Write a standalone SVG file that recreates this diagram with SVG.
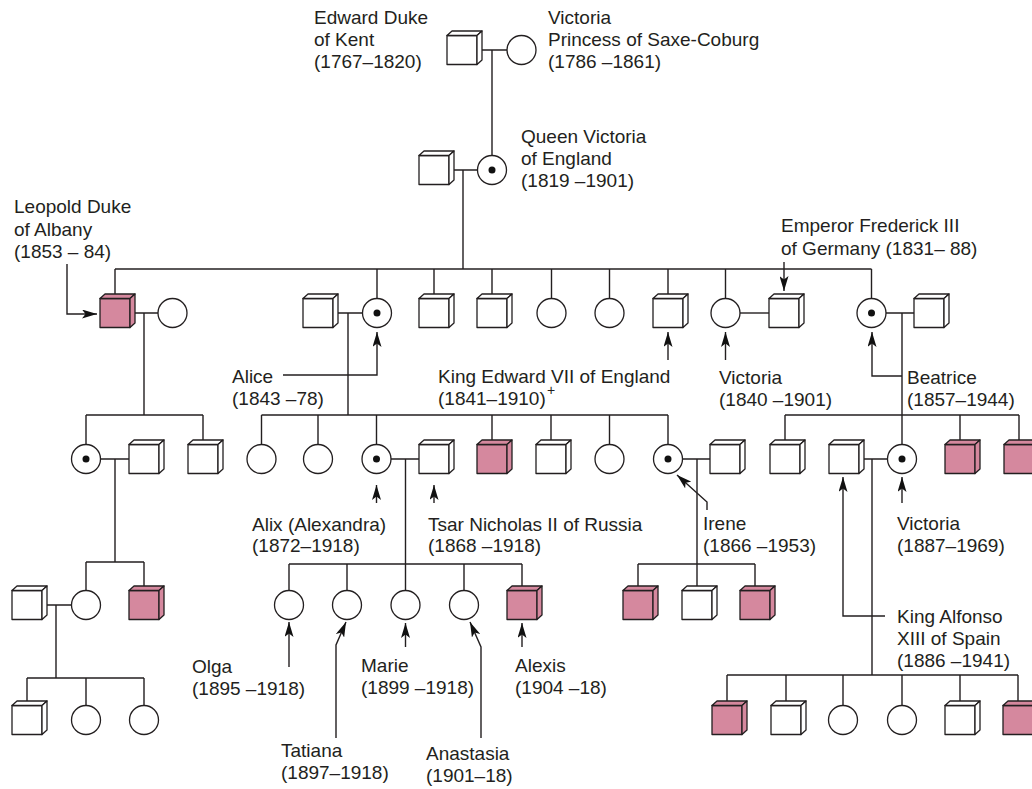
<svg xmlns="http://www.w3.org/2000/svg" xmlns:xlink="http://www.w3.org/1999/xlink" width="1032" height="789" viewBox="0 0 1032 789">
  <style>
    text { font-family: "Liberation Sans", Arial, sans-serif; font-size: 19px; fill: #231f20; }
    .sup { font-size: 14px; }
    .ln { fill: none; stroke: #231f20; stroke-width: 1.4; }
    .ar { fill: none; stroke: #231f20; stroke-width: 1.4; marker-end: url(#head); }
    .f { fill: #ffffff; }
    .p { fill: #d5889e; }
    .c { fill: #ffffff; stroke: #231f20; stroke-width: 1.3; }
    .dot { fill: #111111; }
  </style>
  <defs>
    <!-- square symbol: origin at top-left of the front face, shallow 3-D top and side -->
    <g id="box" stroke="#231f20" stroke-width="1.3" stroke-linejoin="round">
      <path d="M0,0 H30 V29 H0 Z"/>
      <path d="M0,0 L5,-4.5 H35 L30,0 Z"/>
      <path d="M30,0 L35,-4.5 V24.5 L30,29 Z"/>
    </g>
    <marker id="head" viewBox="0 0 15 9" refX="15" refY="4.5" markerWidth="15" markerHeight="9" markerUnits="userSpaceOnUse" orient="auto">
      <path d="M0,0 L15,4.5 L0,9 L3.5,4.5 Z" fill="#111111"/>
    </marker>
  </defs>

  <!-- connectors: marriages, descent lines, sibling bars and label pointers -->
  <g id="connectors">
    <!-- generation I -->
    <path class="ln" d="M481,50 H507 M492,50 V155.5"/>
    <!-- generation II -->
    <path class="ln" d="M453,170 H477.5 M463,170 V269"/>
    <path class="ln" d="M115,269 H871.5"/>
    <path class="ln" d="M115,269 V294 M377,269 V298.5 M434,269 V294 M492,269 V294 M551.5,269 V298.5 M609.5,269 V298.5 M668,269 V294 M725.5,269 V298.5 M871.5,269 V298.5"/>
    <!-- generation III marriages and descents -->
    <path class="ln" d="M134,313 H158 M144,313 V415"/>
    <path class="ln" d="M338,313 H362.5 M348,313 V415"/>
    <path class="ln" d="M740,313 H769"/>
    <path class="ln" d="M886,313 H914 M902,313 V444.5"/>
    <!-- sibling bars, generation IV -->
    <path class="ln" d="M86,415 H203 M86,415 V444.5 M203,415 V440"/>
    <path class="ln" d="M261.5,415 H668 M261.5,415 V444.5 M318,415 V444.5 M376.5,415 V444.5 M492,415 V440 M551,415 V440 M609.5,415 V444.5 M668,415 V444.5"/>
    <path class="ln" d="M785,415 H1019 M785,415 V440 M960,415 V440 M1019,415 V440"/>
    <!-- generation IV marriages and descents -->
    <path class="ln" d="M100.5,459 H129 M115,459 V562"/>
    <path class="ln" d="M391,459 H419 M405.5,459 V590.5"/>
    <path class="ln" d="M682.5,459 H710 M697,459 V586"/>
    <path class="ln" d="M864,459 H887.5 M872,459 V675"/>
    <!-- sibling bars, generation V -->
    <path class="ln" d="M86,562 H144 M86,562 V590.5 M144,562 V586"/>
    <path class="ln" d="M289,564 H522 M289,564 V590.5 M347,564 V590.5 M464,564 V590.5 M522,564 V586"/>
    <path class="ln" d="M638,564 H755 M638,564 V586 M755,564 V586"/>
    <path class="ln" d="M47,605 H71.5 M56,605 V678"/>
    <!-- sibling bars, generation VI -->
    <path class="ln" d="M27,678 H144 M27,678 V701 M86,678 V705.5 M144,678 V705.5"/>
    <path class="ln" d="M727,675 H1018 M727,675 V701 M786,675 V701 M843,675 V705.5 M902,675 V705.5 M960,675 V701 M1018,675 V701"/>

    <!-- label pointers -->
    <path class="ar" d="M67,264 V314 H97"/>
    <path class="ar" d="M784,262 V291"/>
    <path class="ar" d="M668,360 V332"/>
    <path class="ar" d="M725.5,360 V332"/>
    <path class="ar" d="M902,376 H872 V332"/>
    <path class="ar" d="M283,375 H377 V332"/>
    <path class="ar" d="M376.5,503 V485"/>
    <path class="ar" d="M434,503 V485"/>
    <path class="ar" d="M707,510 V502 L677,475"/>
    <path class="ar" d="M289,667 V622"/>
    <path class="ar" d="M336,738 V645 L346,622"/>
    <path class="ar" d="M405.5,647 V623"/>
    <path class="ar" d="M481,738 V647 L470,622"/>
    <path class="ar" d="M522,647 V623"/>
    <path class="ar" d="M902,503 V477"/>
    <path class="ar" d="M885,616 H843 V477"/>
  </g>

  <!-- generation I -->
  <g id="edward-kent"><use href="#box" class="f" x="447" y="35.5"/></g>
  <g id="victoria-saxe-coburg"><circle class="c" cx="521.5" cy="50" r="14.5"/></g>

  <!-- generation II -->
  <g id="albert"><use href="#box" class="f" x="419" y="155.5"/></g>
  <g id="queen-victoria"><circle class="c" cx="492" cy="170" r="14.5"/><circle class="dot" cx="492" cy="170" r="3.5"/></g>

  <!-- generation III -->
  <g id="leopold"><use href="#box" class="p" x="100" y="298.5"/></g>
  <g id="helena-waldeck"><circle class="c" cx="172.5" cy="313" r="14.5"/></g>
  <g id="louis-hesse"><use href="#box" class="f" x="303" y="298.5"/></g>
  <g id="alice"><circle class="c" cx="377" cy="313" r="14.5"/><circle class="dot" cx="377" cy="313" r="3.5"/></g>
  <g id="son-1"><use href="#box" class="f" x="419" y="298.5"/></g>
  <g id="son-2"><use href="#box" class="f" x="477" y="298.5"/></g>
  <g id="daughter-1"><circle class="c" cx="551.5" cy="313" r="14.5"/></g>
  <g id="daughter-2"><circle class="c" cx="609.5" cy="313" r="14.5"/></g>
  <g id="edward-vii"><use href="#box" class="f" x="653" y="298.5"/></g>
  <g id="victoria-princess-royal"><circle class="c" cx="725.5" cy="313" r="14.5"/></g>
  <g id="frederick-iii"><use href="#box" class="f" x="769" y="298.5"/></g>
  <g id="beatrice"><circle class="c" cx="871.5" cy="313" r="14.5"/><circle class="dot" cx="871.5" cy="313" r="3.5"/></g>
  <g id="henry-battenberg"><use href="#box" class="f" x="914" y="298.5"/></g>

  <!-- generation IV -->
  <g id="alice-albany"><circle class="c" cx="86" cy="459" r="14.5"/><circle class="dot" cx="86" cy="459" r="3.5"/></g>
  <g id="alexander-teck"><use href="#box" class="f" x="129" y="444.5"/></g>
  <g id="charles-albany"><use href="#box" class="f" x="188" y="444.5"/></g>
  <g id="hesse-d1"><circle class="c" cx="261.5" cy="459" r="14.5"/></g>
  <g id="hesse-d2"><circle class="c" cx="318" cy="459" r="14.5"/></g>
  <g id="alix"><circle class="c" cx="376.5" cy="459" r="14.5"/><circle class="dot" cx="376.5" cy="459" r="3.5"/></g>
  <g id="nicholas-ii"><use href="#box" class="f" x="419" y="444.5"/></g>
  <g id="hesse-s1"><use href="#box" class="p" x="477" y="444.5"/></g>
  <g id="hesse-s2"><use href="#box" class="f" x="536" y="444.5"/></g>
  <g id="hesse-d3"><circle class="c" cx="609.5" cy="459" r="14.5"/></g>
  <g id="irene"><circle class="c" cx="668" cy="459" r="14.5"/><circle class="dot" cx="668" cy="459" r="3.5"/></g>
  <g id="henry-prussia"><use href="#box" class="f" x="710" y="444.5"/></g>
  <g id="batt-s1"><use href="#box" class="f" x="770" y="444.5"/></g>
  <g id="alfonso-xiii"><use href="#box" class="f" x="829" y="444.5"/></g>
  <g id="victoria-eugenie"><circle class="c" cx="902" cy="459" r="14.5"/><circle class="dot" cx="902" cy="459" r="3.5"/></g>
  <g id="batt-s2"><use href="#box" class="p" x="945" y="444.5"/></g>
  <g id="batt-s3"><use href="#box" class="p" x="1004" y="444.5"/></g>

  <!-- generation V -->
  <g id="teck-husband"><use href="#box" class="f" x="12" y="590.5"/></g>
  <g id="teck-d1"><circle class="c" cx="86" cy="605" r="14.5"/></g>
  <g id="teck-s1"><use href="#box" class="p" x="129" y="590.5"/></g>
  <g id="olga"><circle class="c" cx="289" cy="605" r="14.5"/></g>
  <g id="tatiana"><circle class="c" cx="347" cy="605" r="14.5"/></g>
  <g id="marie"><circle class="c" cx="405.5" cy="605" r="14.5"/></g>
  <g id="anastasia"><circle class="c" cx="464" cy="605" r="14.5"/></g>
  <g id="alexis"><use href="#box" class="p" x="507" y="590.5"/></g>
  <g id="prussia-s1"><use href="#box" class="p" x="623" y="590.5"/></g>
  <g id="prussia-s2"><use href="#box" class="f" x="682" y="590.5"/></g>
  <g id="prussia-s3"><use href="#box" class="p" x="740" y="590.5"/></g>

  <!-- generation VI -->
  <g id="vi-s1"><use href="#box" class="f" x="12" y="705.5"/></g>
  <g id="vi-d1"><circle class="c" cx="86" cy="720" r="14.5"/></g>
  <g id="vi-d2"><circle class="c" cx="144" cy="720" r="14.5"/></g>
  <g id="spain-s1"><use href="#box" class="p" x="712" y="705.5"/></g>
  <g id="spain-s2"><use href="#box" class="f" x="771" y="705.5"/></g>
  <g id="spain-d1"><circle class="c" cx="843" cy="720" r="14.5"/></g>
  <g id="spain-d2"><circle class="c" cx="902" cy="720" r="14.5"/></g>
  <g id="spain-s3"><use href="#box" class="f" x="945" y="705.5"/></g>
  <g id="spain-s4"><use href="#box" class="p" x="1003" y="705.5"/></g>

  <!-- labels -->
  <g id="labels">
    <text x="314" y="24">Edward Duke</text>
    <text x="314" y="46">of Kent</text>
    <text x="314" y="68">(1767–1820)</text>
    <text x="548" y="24">Victoria</text>
    <text x="548" y="46">Princess of Saxe-Coburg</text>
    <text x="548" y="68">(1786 –1861)</text>
    <text x="521" y="143">Queen Victoria</text>
    <text x="521" y="165">of England</text>
    <text x="521" y="187">(1819 –1901)</text>
    <text x="14" y="213">Leopold Duke</text>
    <text x="14" y="236">of Albany</text>
    <text x="14" y="258">(1853 – 84)</text>
    <text x="781" y="232">Emperor Frederick III</text>
    <text x="781" y="255">of Germany (1831– 88)</text>
    <text x="232" y="383">Alice</text>
    <text x="232" y="405">(1843 –78)</text>
    <text x="438" y="383">King Edward VII of England</text>
    <text x="438" y="405">(1841–1910)</text>
    <text class="sup" x="547" y="395">+</text>
    <text x="719" y="384">Victoria</text>
    <text x="719" y="406">(1840 –1901)</text>
    <text x="907" y="384">Beatrice</text>
    <text x="907" y="406">(1857–1944)</text>
    <text x="252" y="531">Alix (Alexandra)</text>
    <text x="252" y="552">(1872–1918)</text>
    <text x="428" y="531">Tsar Nicholas II of Russia</text>
    <text x="428" y="552">(1868 –1918)</text>
    <text x="703" y="530">Irene</text>
    <text x="703" y="552">(1866 –1953)</text>
    <text x="897" y="530">Victoria</text>
    <text x="897" y="552">(1887–1969)</text>
    <text x="897" y="623">King Alfonso</text>
    <text x="897" y="645">XIII of Spain</text>
    <text x="897" y="667">(1886 –1941)</text>
    <text x="192" y="673">Olga</text>
    <text x="192" y="695">(1895 –1918)</text>
    <text x="361" y="672">Marie</text>
    <text x="361" y="694">(1899 –1918)</text>
    <text x="515" y="672">Alexis</text>
    <text x="515" y="694">(1904 –18)</text>
    <text x="281" y="757">Tatiana</text>
    <text x="281" y="779">(1897–1918)</text>
    <text x="426" y="760">Anastasia</text>
    <text x="426" y="782">(1901–18)</text>
  </g>
</svg>
